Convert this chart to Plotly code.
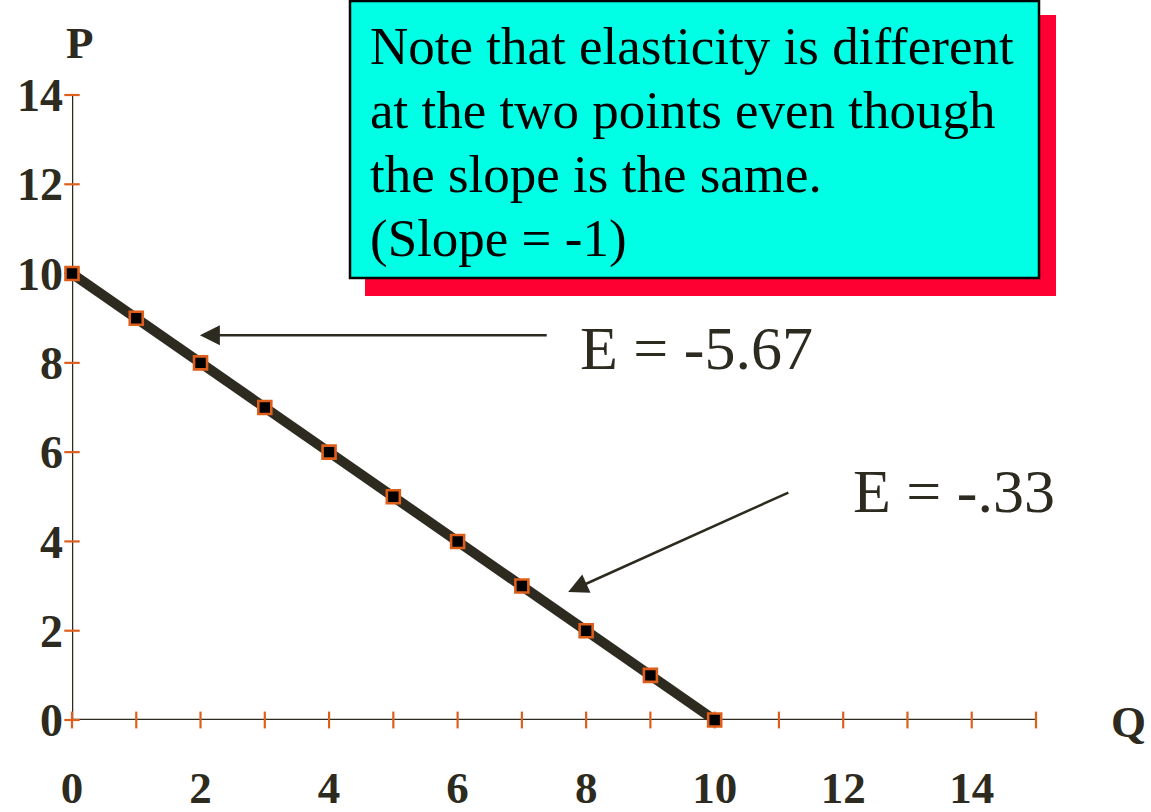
import plotly.graph_objects as go

# Linear demand curve P = 10 - Q
quantity = [0, 1, 2, 3, 4, 5, 6, 7, 8, 9, 10]
price = [10, 9, 8, 7, 6, 5, 4, 3, 2, 1, 0]

x_ticks = [0, 1, 2, 3, 4, 5, 6, 7, 8, 9, 10, 11, 12, 13, 14, 15]
y_ticks = [0, 2, 4, 6, 8, 10, 12, 14]
x_labels = [0, 2, 4, 6, 8, 10, 12, 14]

note_lines = [
    "Note that elasticity is different",
    "at the two points even though",
    "the slope is the same.",
    "(Slope = -1)",
]
elastic_label = "E = -5.67"
inelastic_label = "E = -.33"

# arrow (head, tail) pairs in data units
elastic_arrow = ((1.99, 8.62), (7.41, 8.62))
inelastic_arrow = ((7.72, 2.87), (11.17, 5.11))

DARK = "#2d2a20"
ORANGE = "#dd5f1b"
CYAN = "#00ffe5"
RED = "#ff0033"
SERIF = "Liberation Serif, Times New Roman, serif"

W, H = 1151, 812

fig = go.Figure()

# axis lines
fig.add_trace(go.Scatter(x=[0, 0], y=[0, max(y_ticks)], mode="lines",
                         line=dict(color=DARK, width=2.5), hoverinfo="skip",
                         cliponaxis=False))
fig.add_trace(go.Scatter(x=[0, max(x_ticks)], y=[0, 0], mode="lines",
                         line=dict(color=DARK, width=2.5), hoverinfo="skip",
                         cliponaxis=False))

# crossing tick marks
fig.add_trace(go.Scatter(x=x_ticks, y=[0] * len(x_ticks), mode="markers",
                         marker=dict(symbol="line-ns-open", size=12, color=ORANGE,
                                     line=dict(color=ORANGE, width=2.2)),
                         hoverinfo="skip", cliponaxis=False))
fig.add_trace(go.Scatter(x=[0] * len(y_ticks), y=y_ticks, mode="markers",
                         marker=dict(symbol="line-ew-open", size=11, color=ORANGE,
                                     line=dict(color=ORANGE, width=2.2)),
                         hoverinfo="skip", cliponaxis=False))

# demand curve
fig.add_trace(go.Scatter(x=quantity, y=price, mode="lines+markers",
                         line=dict(color=DARK, width=10),
                         marker=dict(symbol="square", size=13, color="black",
                                     line=dict(color=ORANGE, width=2.6)),
                         cliponaxis=False))

# note box with drop shadow
fig.add_shape(type="rect", xref="paper", yref="paper",
              x0=365 / W, x1=1056 / W, y0=1 - 296 / H, y1=1 - 15 / H,
              fillcolor=RED, line=dict(width=0), layer="above")
fig.add_shape(type="rect", xref="paper", yref="paper",
              x0=350 / W, x1=1039 / W, y0=1 - 278 / H, y1=1 - 1 / H,
              fillcolor=CYAN, line=dict(color="black", width=2.5), layer="above")

# one annotation per line to control the leading
note_centers = [46, 110, 174, 238]
for line_text, cy in zip(note_lines, note_centers):
    fig.add_annotation(text=line_text, xref="paper", yref="paper",
                       x=368 / W, y=1 - cy / H, xanchor="left", yanchor="middle",
                       align="left", showarrow=False,
                       font=dict(family=SERIF, size=53, color="black"))

# elasticity labels and arrows
for (head, tail) in (elastic_arrow, inelastic_arrow):
    fig.add_annotation(x=head[0], y=head[1], ax=tail[0], ay=tail[1],
                       xref="x", yref="y", axref="x", ayref="y", text="",
                       showarrow=True, arrowhead=2, arrowsize=1.6,
                       arrowwidth=2.5, arrowcolor=DARK)

fig.add_annotation(text=elastic_label, xref="paper", yref="paper",
                   x=578 / W, y=1 - 348 / H, xanchor="left", yanchor="middle",
                   showarrow=False, font=dict(family=SERIF, size=62, color=DARK))
fig.add_annotation(text=inelastic_label, xref="paper", yref="paper",
                   x=851 / W, y=1 - 491 / H, xanchor="left", yanchor="middle",
                   showarrow=False, font=dict(family=SERIF, size=62, color=DARK))

# axis names
fig.add_annotation(text="<b>P</b>", xref="paper", yref="paper",
                   x=80 / W, y=1 - 43 / H, xanchor="center", yanchor="middle",
                   showarrow=False, font=dict(family=SERIF, size=45, color=DARK))
fig.add_annotation(text="<b>Q</b>", xref="paper", yref="paper",
                   x=1128 / W, y=1 - 722 / H, xanchor="center", yanchor="middle",
                   showarrow=False, font=dict(family=SERIF, size=45, color=DARK))

x_px0, x_px1 = 72, 1036
y_px0, y_px1 = 720, 95

fig.update_layout(
    width=W, height=H,
    margin=dict(l=0, r=0, t=0, b=0, autoexpand=False),
    paper_bgcolor="white", plot_bgcolor="rgba(0,0,0,0)",
    showlegend=False,
    xaxis=dict(domain=[x_px0 / W, x_px1 / W], range=[0, 15], automargin=False,
               showgrid=False, zeroline=False, showline=False, ticks="",
               tickmode="array", tickvals=x_labels,
               ticktext=[str(v) for v in x_labels],
               ticklabelstandoff=37,
               tickfont=dict(family=SERIF, size=45, color=DARK, weight="bold")),
    yaxis=dict(domain=[1 - y_px0 / H, 1 - y_px1 / H], range=[0, 14], automargin=False,
               showgrid=False, zeroline=False, showline=False, ticks="",
               tickmode="array", tickvals=y_ticks,
               ticktext=[str(v) for v in y_ticks],
               ticklabelstandoff=8,
               tickfont=dict(family=SERIF, size=46, color=DARK, weight="bold")),
)

fig.write_html("out.html")
